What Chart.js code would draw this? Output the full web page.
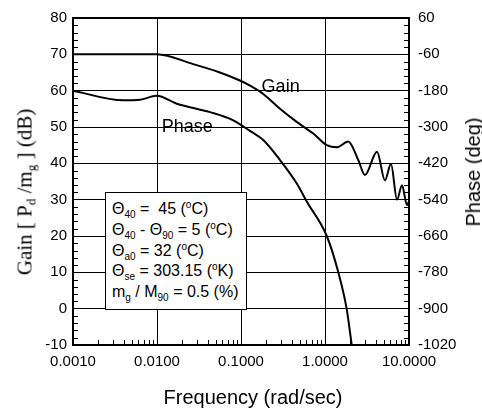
<!DOCTYPE html>
<html><head><meta charset="utf-8">
<script src="https://cdn.jsdelivr.net/npm/chart.js@4/dist/chart.umd.min.js"></script>
<style>
html,body{margin:0;padding:0;background:#fff;}
#wrap{position:relative;width:482px;height:412px;overflow:hidden;}
#c{position:absolute;left:0;top:0;}
.box{position:absolute;left:105px;top:192px;width:142px;height:118px;border:1.5px solid #000;background:#fff;box-sizing:border-box;font-family:"Liberation Sans",Arial,sans-serif;font-size:16px;color:#000;padding:6px 0 0 6px;}
.box div{height:20.8px;line-height:20.8px;white-space:nowrap;}
sub{font-size:10px;vertical-align:-4px;line-height:0;}
sup{font-size:10px;vertical-align:6px;line-height:0;}
.ttl{position:absolute;white-space:nowrap;color:#000;line-height:1;}
#ly{left:25px;top:192px;transform:translate(-50%,-50%) rotate(-90deg);font-family:"Liberation Serif","Times New Roman",serif;font-size:21px;}
#ly sub{font-size:13px;vertical-align:-4px;}
#ry{left:473px;top:172px;transform:translate(-50%,-50%) rotate(-90deg);font-family:"Liberation Sans",Arial,sans-serif;font-size:20px;}
#xt{left:253px;top:397px;transform:translate(-50%,-50%);font-family:"Liberation Sans",Arial,sans-serif;font-size:20px;}
</style>
</head><body>
<div id="wrap">
<canvas id="c" width="482" height="412"></canvas>
<div class="ttl" id="ly">Gain [ P<sub>d</sub> /m<sub>g</sub> ] (dB)</div>
<div class="ttl" id="ry">Phase (deg)</div>
<div class="ttl" id="xt">Frequency (rad/sec)</div>
<div class="box">
<div>&Theta;<sub>40</sub> =&nbsp; 45 (<sup>o</sup>C)</div>
<div>&Theta;<sub>40</sub> - &Theta;<sub>90</sub> = 5 (<sup>o</sup>C)</div>
<div>&Theta;<sub>a0</sub> = 32 (<sup>o</sup>C)</div>
<div>&Theta;<sub>se</sub> = 303.15 (<sup>o</sup>K)</div>
<div>m<sub>g</sub> / M<sub>90</sub> = 0.5 (%)</div>
</div>
</div>
<script>
// ---- data ----
const gainFreq = [0.001, 0.0099, 0.027, 0.056, 0.097, 0.128, 0.184, 0.291, 0.46, 0.726, 1.05, 1.38, 1.89, 2.49, 2.99, 4.16, 5.18, 6.1, 7.2, 8.26, 9.46, 10];
const gainDb   = [70, 70, 67.3, 65, 62.8, 61.4, 59.1, 55, 51.4, 48.2, 45, 44.4, 46, 40.9, 36.8, 43.2, 35.3, 39.9, 30, 34, 28.5, 29.5];
const phaseFreq = [0.001, 0.00397, 0.00628, 0.0099, 0.0172, 0.0427, 0.081, 0.128, 0.184, 0.291, 0.46, 0.606, 1.05, 1.44, 1.81, 2.08];
const phaseDeg  = [-180, -212, -210, -197, -223, -251, -278, -313, -343, -409, -486, -546, -660, -780, -900, -1020];
const xTicks = [0.001, 0.01, 0.1, 1, 10];
const gainTicks = [-10, 0, 10, 20, 30, 40, 50, 60, 70, 80];
const phaseTicks = [-1020, -900, -780, -660, -540, -420, -300, -180, -60, 60];
const curveLabels = ['Gain', 'Phase'];
const curveLabelFreq = [0.176, 0.01137];
const curveLabelDb = [59.6, 48.7];

const tickFont = {family: '"Liberation Sans", Arial, sans-serif', size: 15};

const decor = {
  id: 'decor',
  afterDatasetsDraw(chart) {
    const {ctx, chartArea: a, scales: {x, y}} = chart;
    ctx.save();
    ctx.strokeStyle = '#000';
    ctx.lineWidth = 1;
    for (let i = 0; i < xTicks.length - 1; i++) {
      for (let k = 2; k < 10; k++) {
        const px = Math.round(x.getPixelForValue(k * xTicks[i])) + 0.5;
        ctx.beginPath(); ctx.moveTo(px, a.bottom); ctx.lineTo(px, a.bottom - 5); ctx.stroke();
      }
    }
    for (let v = gainTicks[0]; v <= gainTicks[gainTicks.length - 1]; v += 2) {
      if (v % 10 === 0) continue;
      const py = Math.round(y.getPixelForValue(v)) + 0.5;
      ctx.beginPath(); ctx.moveTo(a.left, py); ctx.lineTo(a.left + 5, py); ctx.stroke();
      ctx.beginPath(); ctx.moveTo(a.right, py); ctx.lineTo(a.right - 5, py); ctx.stroke();
    }
    ctx.lineWidth = 2;
    ctx.strokeRect(a.left, a.top, a.right - a.left, a.bottom - a.top);
    ctx.fillStyle = '#000';
    ctx.font = '18px "Liberation Sans", Arial, sans-serif';
    ctx.textAlign = 'left';
    ctx.textBaseline = 'alphabetic';
    curveLabels.forEach((t, i) => {
      ctx.fillText(t, x.getPixelForValue(curveLabelFreq[i]), y.getPixelForValue(curveLabelDb[i]));
    });
    ctx.restore();
  }
};

new Chart(document.getElementById('c'), {
  type: 'scatter',
  data: {
    datasets: [
      {label: 'Gain', data: gainFreq.map((f, i) => ({x: f, y: gainDb[i]})), yAxisID: 'y',
       showLine: true, borderColor: '#000', borderWidth: 2, pointRadius: 0, cubicInterpolationMode: 'monotone'},
      {label: 'Phase', data: phaseFreq.map((f, i) => ({x: f, y: phaseDeg[i]})), yAxisID: 'y2',
       showLine: true, borderColor: '#000', borderWidth: 2, pointRadius: 0, cubicInterpolationMode: 'monotone'}
    ]
  },
  options: {
    responsive: false,
    animation: false,
    layout: {padding: {top: 14, left: 0, right: 0, bottom: 0}},
    plugins: {legend: {display: false}, tooltip: {enabled: false}},
    scales: {
      x: {
        type: 'logarithmic', min: 0.001, max: 10,
        afterBuildTicks: s => { s.ticks = xTicks.map(v => ({value: v})); },
        ticks: {callback: v => Number(v).toFixed(4), font: tickFont, color: '#000', padding: 8, maxRotation: 0, autoSkip: false},
        grid: {color: '#000', lineWidth: 1, drawTicks: false},
        border: {display: false},
        afterFit: s => { s.height = 67; }
      },
      y: {
        position: 'left', min: -10, max: 80,
        afterBuildTicks: s => { s.ticks = gainTicks.map(v => ({value: v})); },
        ticks: {callback: v => String(v), font: tickFont, color: '#000', padding: 6},
        grid: {color: '#000', lineWidth: 1, drawTicks: false},
        border: {display: false},
        afterFit: s => { s.width = 73; }
      },
      y2: {
        position: 'right', min: -1020, max: 60,
        afterBuildTicks: s => { s.ticks = phaseTicks.map(v => ({value: v})); },
        ticks: {callback: v => String(v), font: tickFont, color: '#000', padding: 9},
        grid: {display: false, drawTicks: false},
        border: {display: false},
        afterFit: s => { s.width = 73; }
      }
    }
  },
  plugins: [decor]
});
</script>
</body></html>
